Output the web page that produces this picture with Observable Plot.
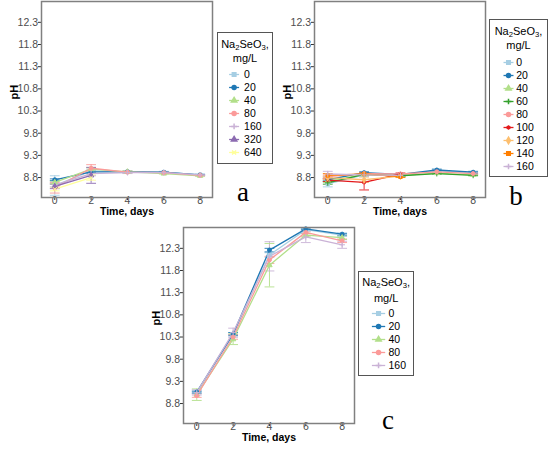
<!DOCTYPE html>
<html><head><meta charset="utf-8">
<script src="https://cdn.jsdelivr.net/npm/d3@7"></script>
<script src="https://cdn.jsdelivr.net/npm/@observablehq/plot@0.6"></script>
<style>
body{margin:0;background:#fff;}
#wrap{position:relative;width:550px;height:450px;overflow:hidden;background:#fff;font-family:"Liberation Sans",Arial,sans-serif;}
.pnl{position:absolute;}
.leg{position:absolute;box-sizing:border-box;border:1px solid #555;background:#fff;}
.legt{position:absolute;left:0;right:0;text-align:center;font-size:11px;color:#000;white-space:nowrap;}
.legt sub{font-size:70%;line-height:0;vertical-align:-0.3em;}
.lk{position:absolute;left:0;}
.tag{position:absolute;font-family:"Liberation Serif","Times New Roman",serif;font-size:27px;line-height:1;color:#000;transform:translateX(-50%);}
</style></head><body><div id="wrap"></div>
<script>
// ---- data ----
const days = [0, 2, 4, 6, 8];
const xTicks = [0, 2, 4, 6, 8];
const yTicks = [8.8, 9.3, 9.8, 10.3, 10.8, 11.3, 11.8, 12.3];

const concA = ["0", "20", "40", "80", "160", "320", "640"];
const meansA = [
  [8.62, 8.95, 8.93, 8.92, 8.86],
  [8.75, 8.93, 8.93, 8.92, 8.86],
  [8.69, 8.99, 8.93, 8.89, 8.84],
  [8.57, 9.01, 8.92, 8.91, 8.85],
  [8.63, 8.89, 8.91, 8.91, 8.86],
  [8.60, 8.85, null, null, null],
  [8.54, 8.80, null, null, null]
];
const sdA = [
  [0.22, 0.04, 0.02, 0.02, 0.02],
  [0.02, 0.03, 0.01, 0.01, 0.01],
  [0.03, 0.03, 0.02, 0.01, 0.01],
  [0.12, 0.08, 0.02, 0.01, 0.01],
  [0.04, 0.05, 0.02, 0.01, 0.01],
  [0.05, 0.18, null, null, null],
  [0.04, 0.06, null, null, null]
];

const concB = ["0", "20", "40", "60", "80", "100", "120", "140", "160"];
const meansB = [
  [8.66, 8.86, 8.86, 8.95, 8.90],
  [8.75, 8.91, 8.87, 8.97, 8.92],
  [8.72, 8.87, 8.85, 8.90, 8.86],
  [8.68, 8.87, 8.84, 8.89, 8.85],
  [8.82, 8.89, 8.88, 8.93, 8.89],
  [8.74, 8.69, 8.88, null, null],
  [8.80, 8.75, 8.83, null, null],
  [8.85, 8.88, 8.82, null, null],
  [8.88, 8.86, 8.85, null, null]
];
const sdB = [
  [0.07, 0.03, 0.02, 0.02, 0.02],
  [0.03, 0.02, 0.02, 0.02, 0.02],
  [0.03, 0.02, 0.02, 0.01, 0.01],
  [0.03, 0.02, 0.02, 0.01, 0.01],
  [0.04, 0.02, 0.02, 0.01, 0.01],
  [0.03, 0.17, 0.02, null, null],
  [0.04, 0.06, 0.02, null, null],
  [0.04, 0.03, 0.02, null, null],
  [0.06, 0.03, 0.02, null, null]
];

const concC = ["0", "20", "40", "80", "160"];
const meansC = [
  [9.05, 10.35, 12.15, 12.72, 12.60],
  [9.06, 10.37, 12.26, 12.74, 12.62],
  [9.00, 10.25, 11.92, 12.60, 12.54],
  [8.98, 10.30, 12.04, 12.66, 12.47],
  [9.05, 10.40, 12.12, 12.56, 12.38]
];
const sdC = [
  [0.03, 0.05, 0.05, 0.02, 0.03],
  [0.02, 0.03, 0.04, 0.02, 0.02],
  [0.13, 0.12, 0.49, 0.04, 0.04],
  [0.04, 0.05, 0.08, 0.03, 0.04],
  [0.06, 0.10, 0.33, 0.13, 0.08]
];

const concAll = ["0", "20", "40", "60", "80", "100", "120", "140", "160", "320", "640"];
const colorAll = ["#a6cee3", "#1f78b4", "#b2df8a", "#33a02c", "#fb9a99", "#e31a1c", "#fdbf6f", "#ff7f00", "#cab2d6", "#8c6bb1", "#ffff99"];
const symbolAll = ["square", "circle", "triangle", "plus", "circle", "asterisk", "diamond", "square", "plus", "triangle", "times"];

const colorOf = c => colorAll[concAll.indexOf(c)];
const symbolOf = c => symbolAll[concAll.indexOf(c)];

function rowsOf(conc, means, sds) {
  const rows = [];
  conc.forEach((c, i) => days.forEach((d, j) => {
    if (means[i][j] != null) rows.push({day: d, conc: c, pH: means[i][j], sd: sds[i][j]});
  }));
  return rows;
}

const wrap = document.getElementById("wrap");
const FONT = '"Liberation Sans", Arial, sans-serif';

function panel(conc, means, sds, left, top) {
  const rows = rowsOf(conc, means, sds);
  const cap = 0.27;
  const p = Plot.plot({
    width: 214, height: 224,
    marginLeft: 41, marginRight: 2, marginTop: 1, marginBottom: 27,
    style: {fontFamily: FONT, fontSize: "10.5px", background: "transparent", overflow: "visible"},
    x: {domain: [-0.73, 8.68]},
    y: {domain: [8.35, 12.77]},
    color: {domain: conc, range: conc.map(colorOf)},
    symbol: {domain: conc, range: conc.map(symbolOf)},
    marks: [
      Plot.axisX({ticks: xTicks, tickSize: 3, tickPadding: -3.5, stroke: "#333", fill: "#4d4d4d", label: null, tickFormat: d => String(d)}),
      Plot.axisY({ticks: yTicks, tickSize: 3, tickPadding: 0.5, stroke: "#333", fill: "#4d4d4d", label: null, tickFormat: d => d.toFixed(1)}),
      Plot.ruleX(rows, {x: "day", y1: d => d.pH - d.sd, y2: d => d.pH + d.sd, stroke: "conc", strokeWidth: 0.9, clip: true}),
      Plot.link(rows, {x1: d => d.day - cap, x2: d => d.day + cap, y1: d => d.pH + d.sd, y2: d => d.pH + d.sd, stroke: "conc", strokeWidth: 0.9, clip: true}),
      Plot.link(rows, {x1: d => d.day - cap, x2: d => d.day + cap, y1: d => d.pH - d.sd, y2: d => d.pH - d.sd, stroke: "conc", strokeWidth: 0.9, clip: true}),
      Plot.line(rows, {x: "day", y: "pH", z: "conc", stroke: "conc", strokeWidth: 1.3}),
      Plot.dot(rows, {x: "day", y: "pH", symbol: "conc", fill: "conc", stroke: "conc", r: 2, strokeWidth: 1}),
      Plot.frame({stroke: "#808080", strokeWidth: 1.5}),
      Plot.text(["pH"], {text: d => d, frameAnchor: "left", dx: -27, rotate: -90, fontWeight: "bold", fontSize: 11, fill: "#000"}),
      Plot.text(["Time, days"], {text: d => d, frameAnchor: "bottom", dy: 17.5, fontWeight: "bold", fontSize: 10.5, fill: "#000"})
    ]
  });
  p.classList.add("pnl");
  p.style.left = left + "px";
  p.style.top = top + "px";
  wrap.appendChild(p);
}

function legend(conc, o) {
  const div = document.createElement("div");
  div.className = "leg";
  Object.assign(div.style, {left: o.left + "px", top: o.top + "px", width: o.w + "px", height: o.h + "px"});
  const t = document.createElement("div");
  t.className = "legt";
  t.style.lineHeight = o.lh + "px";
  t.style.top = (o.t1 - o.lh / 2 - 1) + "px";
  t.innerHTML = "Na<sub>2</sub>SeO<sub>3</sub>,<br>mg/L";
  div.appendChild(t);
  const H = conc.length * o.step;
  const k = Plot.plot({
    width: o.w - 2, height: H, margin: 0,
    style: {fontFamily: FONT, fontSize: "10.5px", background: "transparent", overflow: "visible"},
    x: {domain: [0, o.w - 2], range: [0, o.w - 2], axis: null},
    y: {type: "point", domain: conc, padding: 0.5, range: [0, H], axis: null},
    color: {domain: conc, range: conc.map(colorOf)},
    symbol: {domain: conc, range: conc.map(symbolOf)},
    marks: [
      Plot.link(conc, {x1: () => o.k1, x2: () => o.k2, y1: d => d, y2: d => d, stroke: d => d, strokeWidth: 1.3}),
      Plot.dot(conc, {x: () => (o.k1 + o.k2) / 2, y: d => d, symbol: d => d, fill: d => d, stroke: d => d, r: 2}),
      Plot.text(conc, {x: () => o.lx, y: d => d, text: d => d, textAnchor: "start", fill: "#000", fontSize: 10.5})
    ]
  });
  k.classList.add("lk");
  k.style.top = (o.first - o.step / 2 - 1) + "px";
  div.appendChild(k);
  wrap.appendChild(div);
}

function tag(txt, cx, baseline) {
  const d = document.createElement("div");
  d.className = "tag";
  d.textContent = txt;
  d.style.left = cx + "px";
  d.style.top = (baseline - 22.6) + "px";
  wrap.appendChild(d);
}

panel(concA, meansA, sdA, 0, 0);
panel(concB, meansB, sdB, 273.3, 0);
panel(concC, meansC, sdC, 141.7, 225.7);

legend(concA, {left: 216.7, top: 32.3, w: 56.6, h: 132, t1: 11.7, lh: 14.3, first: 40, step: 13.6, k1: 10.6, k2: 20.6, lx: 25.6});
legend(concB, {left: 489, top: 18.7, w: 59, h: 158.6, t1: 12.6, lh: 14, first: 41.6, step: 13.375, k1: 13, k2: 23, lx: 25.7});
legend(concC, {left: 358.3, top: 270.7, w: 55.7, h: 105.3, t1: 12.6, lh: 15.7, first: 41, step: 13.4, k1: 12.4, k2: 25.7, lx: 29});

tag("a", 243, 201.7);
tag("b", 516, 206);
tag("c", 388, 430);
</script></body></html>
